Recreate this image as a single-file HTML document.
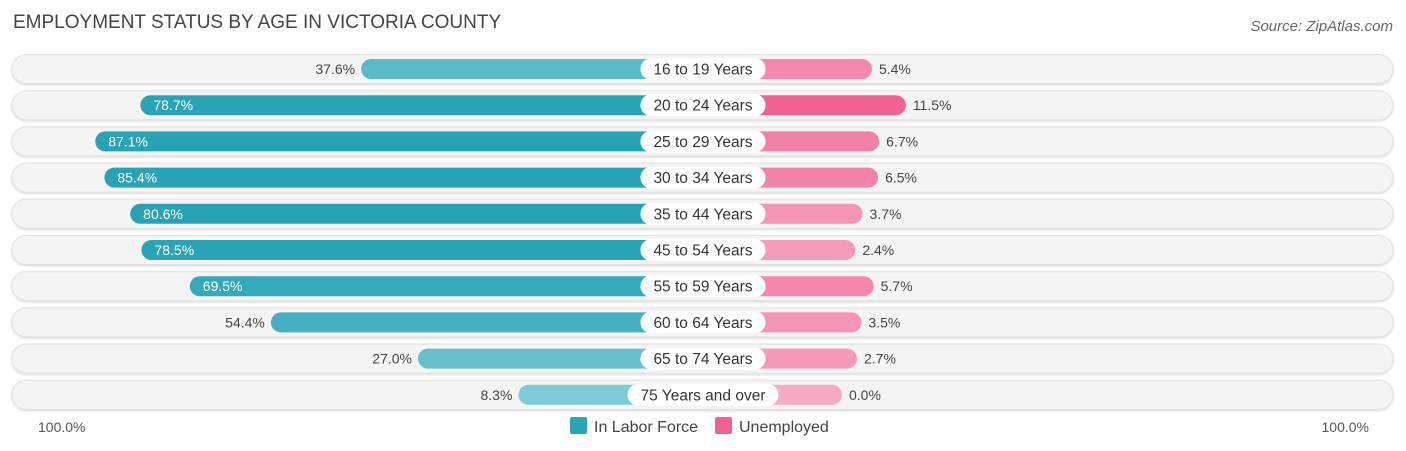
<!DOCTYPE html>
<html><head><meta charset="utf-8"><style>
body{margin:0;background:#fff;font-family:"Liberation Sans",sans-serif}
svg{display:block}
</style></head><body>
<svg id="c" width="1406" height="451" xmlns="http://www.w3.org/2000/svg" font-family="Liberation Sans, sans-serif">
<defs><filter id="sh" x="-5%" y="-30%" width="110%" height="160%"><feDropShadow dx="0" dy="1" stdDeviation="1.2" flood-color="#000" flood-opacity="0.18"/></filter></defs>
<text x="13" y="28" font-size="19" fill="#444">EMPLOYMENT STATUS BY AGE IN VICTORIA COUNTY</text>
<text x="1393" y="31" font-size="15" fill="#666" text-anchor="end" font-style="italic">Source: ZipAtlas.com</text>
<g id="rows"></g>
<text x="38" y="432" font-size="14" fill="#555">100.0%</text>
<text x="1369" y="432" font-size="14" fill="#555" text-anchor="end">100.0%</text>
<g>
<rect x="570" y="417" width="17" height="17" rx="2" fill="#2aa5b5"/>
<text x="594" y="432" font-size="16" fill="#444">In Labor Force</text>
<rect x="715" y="417" width="17" height="17" rx="2" fill="#f06292"/>
<text x="739" y="432" font-size="16" fill="#444">Unemployed</text>
</g>
</svg>
<script>
const categories=["16 to 19 Years","20 to 24 Years","25 to 29 Years","30 to 34 Years","35 to 44 Years","45 to 54 Years","55 to 59 Years","60 to 64 Years","65 to 74 Years","75 Years and over"];
const laborForce=[37.6,78.7,87.1,85.4,80.6,78.5,69.5,54.4,27.0,8.3];
const unemployed=[5.4,11.5,6.7,6.5,3.7,2.4,5.7,3.5,2.7,0.0];
const NS="http://www.w3.org/2000/svg";
const cx=703, lOff=140, lScale=5.37, rOff=139, rScale=5.55;
const rowY=i=>69+i*36.2;
const xL=v=>cx-lOff-v*lScale, xR=v=>cx+rOff+v*rScale;
function mix(a,b,t){const p=s=>[1,3,5].map(k=>parseInt(s.substr(k,2),16));const A=p(a),B=p(b);return "rgb("+A.map((x,k)=>Math.round(x+(B[k]-x)*t)).join(",")+")";}
function el(t,attrs,parent){const e=document.createElementNS(NS,t);for(const k in attrs)e.setAttribute(k,attrs[k]);parent.appendChild(e);return e;}
const g=document.getElementById('rows');
categories.forEach((c,i)=>{
  const y=rowY(i);
  const row=el('g',{},g);
  
  
  const bg=el('rect',{x:12,y:y-14.5,width:1381,height:29,rx:14.5,fill:'#f4f4f4',stroke:'#e2e2e2','stroke-width':1,filter:'url(#sh)'},row);
  
  
  const lv=laborForce[i], uv=unemployed[i];
  const lx=xL(lv);
  const lb=el('rect',{x:lx,y:y-10,width:cx-lx,height:20,rx:10,fill:mix('#86d0d9','#27a3b4',Math.min(1,lv/80))},row);
  
  
  const rx=xR(uv);
  const rb=el('rect',{x:cx,y:y-10,width:rx-cx,height:20,rx:10,fill:mix('#f7abc4','#f06292',Math.min(1,uv/11.5))},row);
  
  
  const inside=lv>=60;
  const lt=el('text',{x:inside?lx+13:lx-6,y:y+5,'font-size':14,fill:inside?'#fff':'#444','text-anchor':inside?'start':'end'},row);
  lt.textContent=lv.toFixed(1)+'%';
  
  
  const rt=el('text',{x:rx+7,y:y+5,'font-size':14,fill:'#444'},row);
  rt.textContent=uv.toFixed(1)+'%';
  
  
  const pill=el('rect',{y:y-11,height:22,rx:11,fill:'#fff'},row);
  
  
  const ct=el('text',{x:cx,y:y+5.5,'font-size':15.5,fill:'#333','text-anchor':'middle'},row);
  ct.textContent=c;
  
  
  const w=ct.getComputedTextLength()+26;
  pill.setAttribute('x',cx-w/2);pill.setAttribute('width',w);
});
</script>
</body></html>
